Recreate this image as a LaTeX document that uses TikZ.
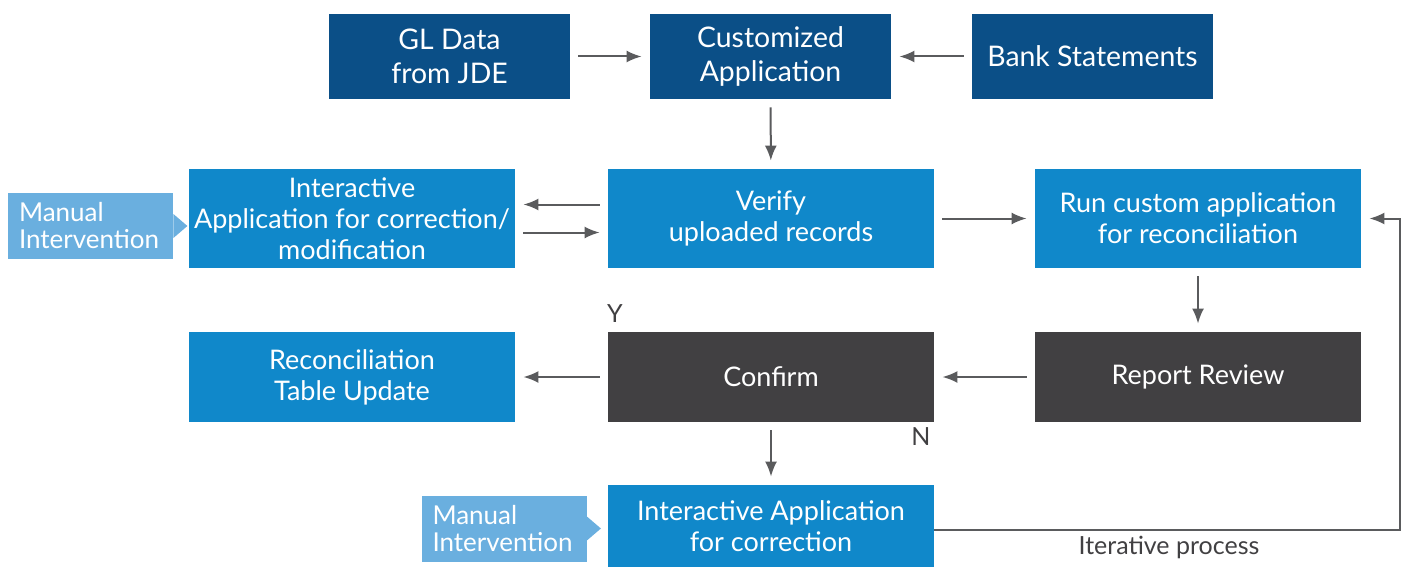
\documentclass[tikz,border=0pt]{standalone}
\usepackage{fontspec}
\setmainfont{Lato}
\usepackage{xcolor}
\usetikzlibrary{math,arrows.meta}

\definecolor{darkblue}{HTML}{0B4F87}
\definecolor{midblue}{HTML}{1088CA}
\definecolor{lightblue}{HTML}{6AAFDF}
\definecolor{darkgrey}{HTML}{414042}
\definecolor{arrowgrey}{HTML}{5A5B5D}

\begin{document}
\begin{tikzpicture}[x=0.5pt,y=-0.5pt,
  box/.style={inner sep=0pt, text=white, align=center,
    font=\fontsize{13.5}{15.5}\selectfont},
  topbox/.style={box, fill=darkblue, minimum width=120.5pt, minimum height=42.5pt,
    font=\fontsize{14.2}{17}\selectfont},
  stepbox/.style={box, fill=midblue, minimum width=163pt, minimum height=49.5pt},
  greybox/.style={box, fill=darkgrey, minimum width=163pt, minimum height=45pt},
  manual/.style={inner xsep=5.5pt, inner ysep=0pt, text=white, fill=lightblue,
    align=left, text width=71.5pt, minimum height=33pt,
    font=\fontsize{13}{13.5}\selectfont},
  arr/.style={draw=arrowgrey, line width=1pt, -{Latex[length=7.5pt,width=6pt]},
    shorten <=4pt, shorten >=4pt},
  lbl/.style={text=darkgrey, font=\fontsize{12.5}{14}\selectfont}
]

\tikzmath{
\tipx = 7;
\tipy = 6;
}

\useasboundingbox (0,0) rectangle (1409,567);

% top row
\node[topbox] (gl) at (449.5,56.5) {GL Data\\from JDE};
\node[topbox] (cust) at (770.5,56.5) {Customized\\Application};
\node[topbox] (bank) at (1092.5,56.5) {Bank Statements};

% middle rows
\node[stepbox] (inter) at (352,218.5) {Interactive\\Application for correction/\\modification};
\node[stepbox] (verify) at (771,218.5) {Verify\\uploaded records};
\node[stepbox] (run) at (1198,218.5) {Run custom application\\for reconciliation};

\node[stepbox, minimum height=45pt] (recon) at (352,377) {Reconciliation\\Table Update};
\node[greybox] (confirm) at (771,377) {Confirm};
\node[greybox] (report) at (1198,377) {Report Review};

\node[stepbox, minimum height=41pt] (fix) at (771,526) {Interactive Application\\for correction};

% manual intervention tags
\node[manual] (man1) at (90.5,226) {Manual\\Intervention};
\fill[lightblue] ([yshift=\tipy pt]man1.east) -- ([xshift=\tipx pt]man1.east)
  -- ([yshift=-\tipy pt]man1.east) -- cycle;
\node[manual] (man2) at (504,528.5) {Manual\\Intervention};
\fill[lightblue] ([yshift=\tipy pt]man2.east) -- ([xshift=\tipx pt]man2.east)
  -- ([yshift=-\tipy pt]man2.east) -- cycle;

% connectors
\draw[arr] (gl) -- (cust);
\draw[arr] (bank) -- (cust);
\draw[arr] (cust) -- (verify);
\draw[arr] ([yshift=7pt]verify.west) -- ([yshift=7pt]inter.east);
\draw[arr] ([yshift=-7pt]inter.east) -- ([yshift=-7pt]verify.west);
\draw[arr] (verify) -- (run);
\draw[arr] (run) -- (report);
\draw[arr] (report) -- (confirm);
\draw[arr] (confirm) -- (recon);
\draw[arr] (confirm) -- (fix);

\coordinate (loop) at (1400,218.5);
\draw[arr, shorten <=0pt] ([yshift=-2pt]fix.east) -| (loop) -- (run.east);

% labels
\node[lbl] (yes) at (615,314) {Y};
\node[lbl] (no) at (921,437) {N};
\node[lbl] (iter) at (1169,547) {Iterative process};

\end{tikzpicture}
\end{document}
